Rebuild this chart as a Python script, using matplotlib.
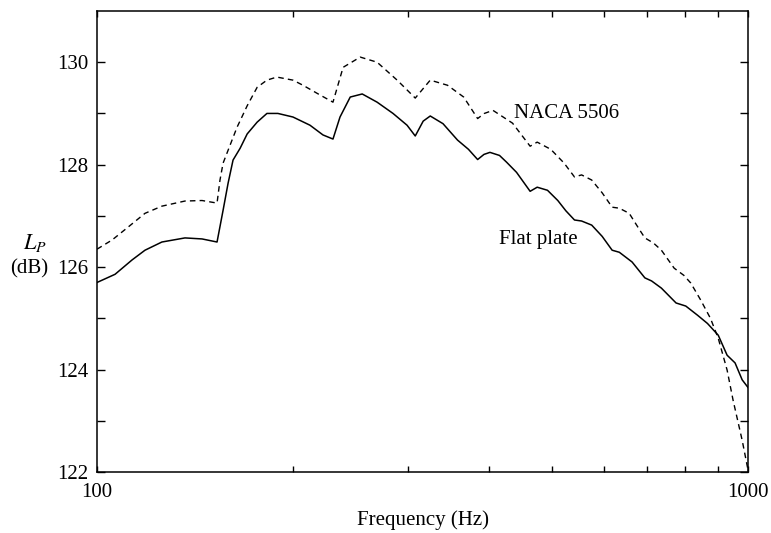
#!/usr/bin/env python3
"""
Sound pressure level spectrum: flat plate vs NACA 5506 aerofoil.
"""

import matplotlib
matplotlib.use("Agg")
import matplotlib.pyplot as plt
from matplotlib.ticker import FixedLocator, NullFormatter

# Flat plate (solid line)
plate_freq = [100, 106.6, 113.2, 118.5, 125.8, 136.5, 145, 152.9, 156.2, 159.0,
              161.8, 165.9, 170.1, 176.2, 182.4, 189.6, 200, 212.4, 222.4, 230.4,
              236.2, 244.9, 255.5, 269.3, 284.9, 299.4, 308.2, 317, 325, 340,
              357.9, 372, 384.3, 393, 401.4, 415.2, 425.6, 441, 462.7, 474.4,
              492, 510.3, 525, 541.3, 555.1, 575.3, 597, 618.4, 634.3, 663.6,
              694.3, 711, 736.1, 775.3, 802.4, 836.6, 866.4, 900.1, 928.7, 955.2,
              979.5, 1000]
plate_db = [125.7, 125.86, 126.14, 126.33, 126.49, 126.57, 126.55, 126.49, 127.11, 127.64,
            128.09, 128.32, 128.6, 128.83, 129.0, 129.0, 128.93, 128.77, 128.58, 128.5,
            128.93, 129.32, 129.38, 129.22, 129.0, 128.77, 128.56, 128.85, 128.95, 128.8,
            128.48, 128.3, 128.1, 128.2, 128.24, 128.18, 128.05, 127.85, 127.48, 127.56,
            127.5, 127.3, 127.1, 126.92, 126.9, 126.82, 126.6, 126.33, 126.29, 126.1,
            125.79, 125.73, 125.59, 125.3, 125.24, 125.06, 124.9, 124.67, 124.28, 124.13,
            123.8, 123.65]

# NACA 5506 (dashed line)
naca_freq = [100, 105.5, 111.6, 118.5, 125.8, 136.5, 145, 152.9, 154.5, 156.2,
             164.1, 170.1, 176.2, 182.4, 188.9, 200, 207.2, 220.1, 230.4, 238.8,
             253.7, 269.3, 289.1, 308.2, 325, 345.5, 365.8, 384.3, 393.5, 405.7,
             434.8, 462.7, 474.4, 497.7, 521.8, 541.3, 555.1, 575.3, 597, 618.4,
             634.3, 656.9, 682.1, 694.3, 715.8, 736.1, 770, 796.8, 816.6, 845.6,
             875.6, 900.1, 928.7, 948.6, 979.5, 1000]
naca_db = [126.35, 126.53, 126.78, 127.05, 127.19, 127.29, 127.3, 127.25, 127.7, 128.03,
           128.73, 129.15, 129.51, 129.65, 129.71, 129.65, 129.55, 129.36, 129.22, 129.9,
           130.1, 130.0, 129.65, 129.3, 129.65, 129.55, 129.32, 128.9, 129.0, 129.06,
           128.81, 128.36, 128.44, 128.3, 128.03, 127.76, 127.8, 127.7, 127.45, 127.17,
           127.15, 127.05, 126.72, 126.57, 126.47, 126.33, 125.98, 125.84, 125.69, 125.36,
           125.0, 124.61, 123.99, 123.4, 122.62, 122.04]

y_major = [122, 124, 126, 128, 130]
y_minor = [123, 125, 127, 129]
x_major = [100, 1000]
x_minor = [200, 300, 400, 500, 600, 700, 800, 900]


def main():
    plt.rcParams["font.family"] = ["Liberation Serif", "DejaVu Serif"]
    plt.rcParams["mathtext.fontset"] = "stix"

    fig = plt.figure(figsize=(7.71, 5.33), dpi=100)
    ax = fig.add_axes([0.1258, 0.1144, 0.8444, 0.865])

    ax.plot(plate_freq, plate_db, color="black", linewidth=1.1)
    ax.plot(naca_freq, naca_db, color="black", linewidth=1.0,
            linestyle=(0, (4, 3)))

    ax.set_xscale("log")
    ax.set_xlim(100, 1000)
    ax.set_ylim(122, 131)

    ax.xaxis.set_major_locator(FixedLocator(x_major))
    ax.xaxis.set_minor_locator(FixedLocator(x_minor))
    ax.set_xticklabels([str(v) for v in x_major])
    ax.xaxis.set_minor_formatter(NullFormatter())
    ax.yaxis.set_major_locator(FixedLocator(y_major))
    ax.yaxis.set_minor_locator(FixedLocator(y_minor))
    ax.set_yticklabels([str(v) for v in y_major])

    ax.tick_params(axis="both", which="both", direction="in",
                   top=True, right=True, labelsize=15, width=1.0)
    ax.tick_params(axis="y", which="both", length=6, pad=6)
    ax.tick_params(axis="x", which="both", length=4, pad=8)

    for sp in ax.spines.values():
        sp.set_linewidth(1.1)

    ax.set_xlabel("Frequency (Hz)", fontsize=15, labelpad=6)

    # y label as two stacked texts to the left of the tick labels
    ax.text(-0.095, 0.497, r"$L_P$", transform=ax.transAxes,
            fontsize=16, ha="center", va="center")
    ax.text(-0.104, 0.44, "(dB)", transform=ax.transAxes,
            fontsize=15, ha="center", va="center")

    ax.text(437, 129.0, "NACA 5506", fontsize=15, ha="left", va="center")
    ax.text(415, 126.53, "Flat plate", fontsize=15, ha="left", va="center")

    fig.savefig("out.png", dpi=100)
    plt.close(fig)


if __name__ == "__main__":
    main()
